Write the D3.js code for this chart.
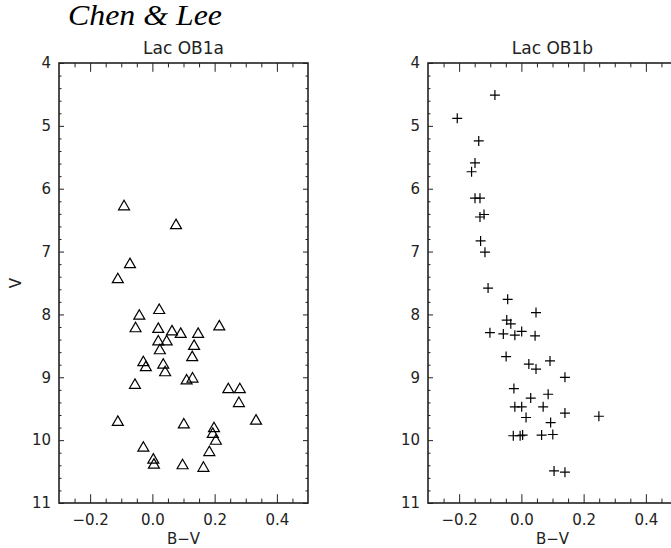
<!DOCTYPE html>
<html>
<head>
<meta charset="utf-8">
<script src="https://cdn.jsdelivr.net/npm/d3@7"></script>
<style>
  body { margin: 0; background: #fff; }
  svg { display: block; }
</style>
</head>
<body>
<div id="chart"></div>
<script>
// Lac OB1a (triangles)
const bvA = [-0.091, 0.076, -0.072, -0.111, 0.022, -0.042, -0.054, 0.019, 0.063, 0.091,
             0.147, 0.215, 0.019, 0.046, 0.134, 0.024, 0.128, -0.029, -0.021, 0.035,
             0.041, -0.056, 0.110, 0.129, 0.244, 0.281, 0.278, -0.111, 0.101, 0.333,
             0.198, 0.194, 0.204, -0.029, 0.183, 0.003, 0.005, 0.097, 0.164];
const vA  = [6.26, 6.56, 7.18, 7.42, 7.91, 8.00, 8.20, 8.21, 8.25, 8.29,
             8.29, 8.17, 8.41, 8.41, 8.48, 8.55, 8.66, 8.74, 8.82, 8.78,
             8.90, 9.10, 9.03, 9.00, 9.17, 9.17, 9.39, 9.69, 9.73, 9.67,
             9.79, 9.88, 9.99, 10.10, 10.17, 10.29, 10.37, 10.38, 10.42];

// Lac OB1b (crosses)
const bvB = [-0.085, -0.206, -0.137, -0.149, -0.160, -0.149, -0.133, -0.120, -0.133, -0.131,
             -0.117, -0.107, -0.044, 0.047, -0.047, -0.034, -0.101, -0.058, -0.021, 0.001,
             0.044, -0.049, 0.024, 0.092, 0.047, 0.140, -0.024, 0.030, 0.086, -0.021,
             0.001, 0.070, 0.015, 0.140, 0.249, 0.094, -0.026, 0.004, -0.004, 0.065,
             0.101, 0.105, 0.140];
const vB  = [4.51, 4.88, 5.24, 5.59, 5.73, 6.15, 6.15, 6.41, 6.45, 6.83,
             7.01, 7.58, 7.76, 7.97, 8.09, 8.15, 8.29, 8.31, 8.33, 8.27,
             8.34, 8.67, 8.79, 8.74, 8.87, 9.00, 9.18, 9.33, 9.27, 9.47,
             9.47, 9.47, 9.64, 9.57, 9.62, 9.72, 9.93, 9.92, 9.93, 9.92,
             9.91, 10.49, 10.51];

// Graduations
const xMajorTicks = [-0.2, 0.0, 0.2, 0.4];
const xMinorTicks = [-0.25, -0.15, -0.1, -0.05, 0.05, 0.1, 0.15, 0.25, 0.3, 0.35, 0.45];
const yMajorTicks = [4, 5, 6, 7, 8, 9, 10, 11];
const yMinorTicks = d3.range(4, 11.001, 0.2).map(d => +d.toFixed(1)).filter(d => !Number.isInteger(d));

// Dimensions
const width = 671;
const height = 548;
const panelWidth = 249;
const panelTop = 63;
const panelBottom = 503;
const ink = "#222";
const font = "'DejaVu Sans', sans-serif";

const svg = d3.create("svg")
    .attr("width", width)
    .attr("height", height)
    .attr("viewBox", [0, 0, width, height]);

svg.append("rect").attr("width", width).attr("height", height).attr("fill", "#fff");

svg.append("text")
    .attr("x", 68)
    .attr("y", 25)
    .attr("font-family", "'Liberation Serif', serif")
    .attr("font-style", "italic")
    .attr("font-size", 29)
    .attr("textLength", 154)
    .attr("lengthAdjust", "spacingAndGlyphs")
    .attr("fill", "#000")
    .text("Chen & Lee");

// triangle équilatéral centré sur sa boîte englobante (comme psym=5)
const idlTriangle = {
  draw(context, size) {
    const s = Math.sqrt(size * 4 / Math.sqrt(3));
    const h = s * Math.sqrt(3) / 2;
    context.moveTo(0, -h / 2);
    context.lineTo(s / 2, h / 2);
    context.lineTo(-s / 2, h / 2);
    context.closePath();
  }
};

function drawPanel(left, title, bv, v, marker, showYTitle) {
  const x = d3.scaleLinear([-0.3, 0.5], [left, left + panelWidth]);
  const y = d3.scaleLinear([4, 11], [panelTop, panelBottom]);
  const g = svg.append("g");

  const style = a => a.call(s => s.select(".domain").remove())
      .call(s => s.selectAll("line").attr("stroke", ink))
      .call(s => s.selectAll("text").attr("fill", ink).attr("font-family", font).attr("font-size", 15));

  // axe bas
  g.append("g").attr("transform", `translate(0,${panelBottom})`)
      .call(d3.axisBottom(x).tickValues(xMajorTicks).tickSize(-8.8).tickPadding(11).tickFormat(d3.format(".1f")))
      .call(style);
  g.append("g").attr("transform", `translate(0,${panelBottom})`)
      .call(d3.axisBottom(x).tickValues(xMinorTicks).tickSize(-4.4).tickFormat(""))
      .call(style);
  // axe haut
  g.append("g").attr("transform", `translate(0,${panelTop})`)
      .call(d3.axisTop(x).tickValues(xMajorTicks).tickSize(-8.8).tickFormat(""))
      .call(style);
  g.append("g").attr("transform", `translate(0,${panelTop})`)
      .call(d3.axisTop(x).tickValues(xMinorTicks).tickSize(-4.4).tickFormat(""))
      .call(style);
  // axe gauche
  g.append("g").attr("transform", `translate(${left},0)`)
      .call(d3.axisLeft(y).tickValues(yMajorTicks).tickSize(-5).tickPadding(8).tickFormat(d3.format("d")))
      .call(style);
  g.append("g").attr("transform", `translate(${left},0)`)
      .call(d3.axisLeft(y).tickValues(yMinorTicks).tickSize(-2.5).tickFormat(""))
      .call(style);
  // axe droit
  g.append("g").attr("transform", `translate(${left + panelWidth},0)`)
      .call(d3.axisRight(y).tickValues(yMajorTicks).tickSize(-5).tickFormat(""))
      .call(style);
  g.append("g").attr("transform", `translate(${left + panelWidth},0)`)
      .call(d3.axisRight(y).tickValues(yMinorTicks).tickSize(-2.5).tickFormat(""))
      .call(style);

  // cadre
  g.append("rect")
      .attr("x", left).attr("y", panelTop)
      .attr("width", panelWidth).attr("height", panelBottom - panelTop)
      .attr("fill", "none").attr("stroke", ink).attr("stroke-width", 1.6);

  // titres
  g.append("text")
      .attr("x", left + panelWidth / 2).attr("y", 54)
      .attr("text-anchor", "middle")
      .attr("font-family", font).attr("font-size", 17).attr("fill", ink)
      .text(title);
  g.append("text")
      .attr("x", left + panelWidth / 2).attr("y", 544)
      .attr("text-anchor", "middle")
      .attr("font-family", font).attr("font-size", 15).attr("fill", ink)
      .text("B\u2212V");
  if (showYTitle) {
    g.append("text")
        .attr("transform", `translate(21,${(panelTop + panelBottom) / 2}) rotate(-90)`)
        .attr("text-anchor", "middle")
        .attr("font-family", font).attr("font-size", 15).attr("fill", ink)
        .text("V");
  }

  // points
  const pts = d3.zip(bv, v);
  g.append("g")
      .attr("fill", "none")
      .attr("stroke", "#000")
      .attr("stroke-width", 1.2)
      .selectAll("path")
      .data(pts)
      .join("path")
        .attr("transform", d => `translate(${x(d[0])},${y(d[1])})`)
        .attr("d", marker);
}

const triangle = d3.symbol(idlTriangle, 52)();
const cross = "M-5,0H5M0,-5V5";

drawPanel(59, "Lac OB1a", bvA, vA, triangle, true);
drawPanel(428, "Lac OB1b", bvB, vB, cross, false);

document.getElementById("chart").appendChild(svg.node());
</script>
</body>
</html>
